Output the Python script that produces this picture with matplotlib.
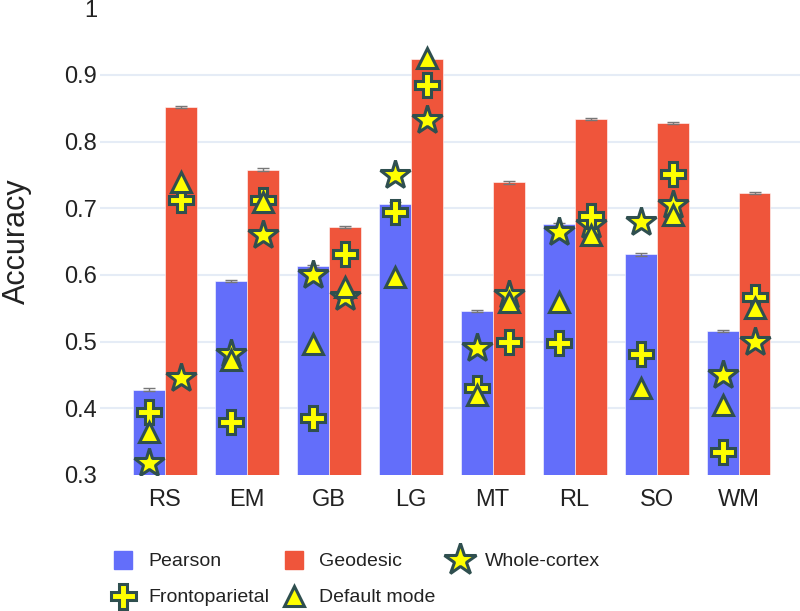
import numpy as np
import matplotlib.pyplot as plt
from matplotlib.lines import Line2D
from matplotlib.ticker import FuncFormatter

plt.rcParams['font.family'] = ['Liberation Sans', 'DejaVu Sans']

cats = ['RS', 'EM', 'GB', 'LG', 'MT', 'RL', 'SO', 'WM']
pearson = [0.428, 0.591, 0.613, 0.707, 0.546, 0.676, 0.631, 0.516]
geodesic = [0.852, 0.758, 0.672, 0.924, 0.739, 0.834, 0.828, 0.723]
pearson_err = [0.002] * 8
geodesic_err = [0.002] * 8

# network-level accuracies (pearson bar / geodesic bar)
whole_p = [0.318, 0.482, 0.600, 0.750, 0.490, 0.665, 0.680, 0.450]
whole_g = [0.445, 0.660, 0.567, 0.832, 0.570, 0.675, 0.705, 0.500]
fronto_p = [0.395, 0.380, 0.385, 0.695, 0.430, 0.498, 0.482, 0.335]
fronto_g = [0.712, 0.713, 0.632, 0.885, 0.500, 0.688, 0.752, 0.567]
default_p = [0.365, 0.472, 0.497, 0.597, 0.420, 0.560, 0.430, 0.405]
default_g = [0.740, 0.710, 0.582, 0.925, 0.560, 0.660, 0.690, 0.550]

blue = '#636EFA'
red = '#EF553B'
yel = '#FFFF00'
edge = '#2F4F4F'
txt = '#222222'

fig = plt.figure(figsize=(8, 6.11), dpi=100)
ax = fig.add_axes([0.125, 0.2226, 0.875, 0.764])

x = np.arange(len(cats))
w = 0.39
ax.bar(x - w/2, pearson, w, color=blue, edgecolor='#ffffff', linewidth=0.4,
       yerr=pearson_err, ecolor='#777777', capsize=4, error_kw={'elinewidth': 1, 'capthick': 1}, zorder=2)
ax.bar(x + w/2, geodesic, w, color=red, edgecolor='#ffffff', linewidth=0.4,
       yerr=geodesic_err, ecolor='#777777', capsize=4, error_kw={'elinewidth': 1, 'capthick': 1}, zorder=2)

mk = dict(linestyle='none', markerfacecolor=yel, markeredgecolor=edge, markeredgewidth=2.2)
for off, vals in [(-w/2, whole_p), (w/2, whole_g)]:
    ax.plot(x + off, vals, marker='*', markersize=22, zorder=3, **mk)
for off, vals in [(-w/2, fronto_p), (w/2, fronto_g)]:
    ax.plot(x + off, vals, marker='P', markersize=17, zorder=3, **mk)
for off, vals in [(-w/2, default_p), (w/2, default_g)]:
    ax.plot(x + off, vals, marker='^', markersize=14, zorder=3, **mk)

ax.set_xlim(-0.79, 7.75)
ax.set_ylim(0.3, 1.0)
ax.set_xticks(x)
ax.set_xticklabels(cats)
ax.set_yticks(np.arange(0.3, 1.01, 0.1))
ax.yaxis.set_major_formatter(FuncFormatter(lambda v, p: '{:g}'.format(round(v, 1))))
ax.tick_params(length=0, labelsize=17, colors=txt)
ax.tick_params(axis='x', pad=10)
ax.tick_params(axis='y', pad=2)
for s in ax.spines.values():
    s.set_visible(False)
ax.grid(axis='y', color='#E5ECF6', linewidth=1.5, zorder=0)
ax.set_axisbelow(True)
gl = ax.yaxis.get_gridlines()
gl[0].set_visible(False)
gl[-1].set_visible(False)
ax.set_ylabel('Accuracy', fontsize=22, color=txt, labelpad=23)

handles = [
    Line2D([], [], linestyle='none', marker='s', markersize=13, color=blue, label='Pearson'),
    Line2D([], [], marker='P', markersize=18, label='Frontoparietal', **mk),
    Line2D([], [], linestyle='none', marker='s', markersize=13, color=red, label='Geodesic'),
    Line2D([], [], marker='^', markersize=14, label='Default mode', **mk),
    Line2D([], [], marker='*', markersize=24, label='Whole-cortex', **mk),
]
fig.legend(handles=handles, ncol=3, loc='upper left', bbox_to_anchor=(0.13, 0.108),
           frameon=False, fontsize=14, handlelength=1.2, handletextpad=0.7,
           columnspacing=0.65, labelspacing=0.95, borderaxespad=0, labelcolor=txt)

fig.savefig('out.png', dpi=100)
